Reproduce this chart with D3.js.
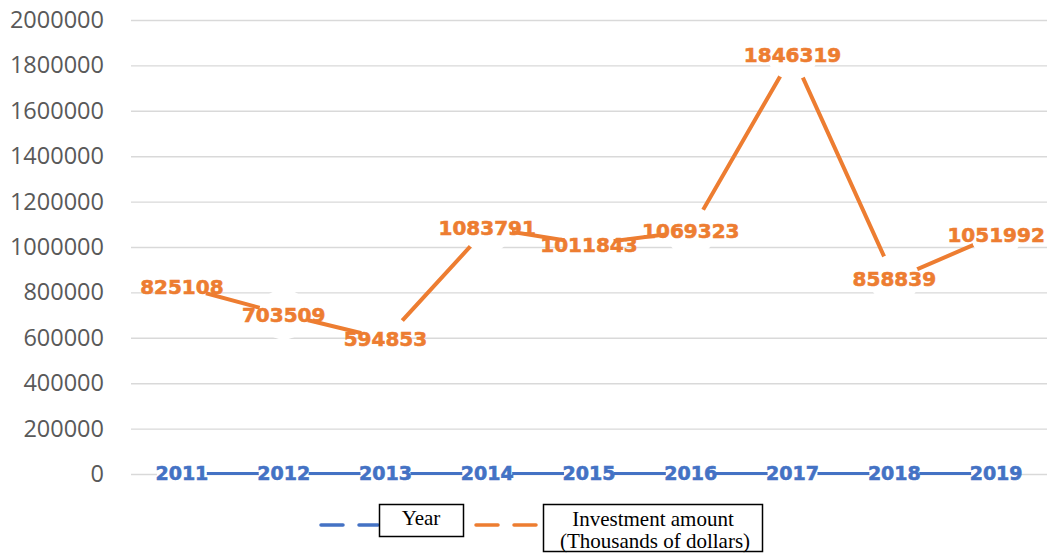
<!DOCTYPE html>
<html>
<head>
<meta charset="utf-8">
<script src="https://cdn.jsdelivr.net/npm/d3@7"></script>
<style>
  html, body { margin: 0; padding: 0; background: #fff; }
  svg { display: block; }
</style>
</head>
<body>
<svg id="chart" width="1051" height="554"></svg>
<script>
const categories = ["2011", "2012", "2013", "2014", "2015", "2016", "2017", "2018", "2019"];
const yearValues = [2011, 2012, 2013, 2014, 2015, 2016, 2017, 2018, 2019];
const investment = [825108, 703509, 594853, 1083791, 1011843, 1069323, 1846319, 858839, 1051992];
const yTicks = [0, 200000, 400000, 600000, 800000, 1000000, 1200000, 1400000, 1600000, 1800000, 2000000];
const seriesNames = ["Year", "Investment amount", "(Thousands of dollars)"];

(function () {
const BLUE = "#4472C4", ORANGE = "#ED7D31";
const svg = d3.select("#chart");
const pLeft = 131, pRight = 1047, pTop = 20, pBottom = 474;

const x = d3.scaleBand().domain(categories).range([pLeft, pRight]);
const cx = d => x(d) + x.bandwidth() / 2;
const y = d3.scaleLinear().domain([0, 2000000]).range([pBottom, pTop]);

// grid + y axis
const axis = svg.append("g").attr("transform", `translate(${pLeft},0)`)
  .call(d3.axisLeft(y).tickValues(yTicks).tickFormat(d3.format("d"))
    .tickSize(-(pRight - pLeft)).tickPadding(27));
axis.select(".domain").remove();
axis.selectAll(".tick line").attr("stroke", "#d9d9d9").attr("stroke-width", 1.4);
axis.selectAll(".tick text").attr("fill", "#595959")
  .style("font-family", "'Open Sans', sans-serif").style("font-size", "23.5px");

const series = [
  { name: "year", values: yearValues, color: BLUE, width: 3, fs: 19 },
  { name: "inv", values: investment, color: ORANGE, width: 4, fs: 20 }
];

const R = 25;
const defs = svg.append("defs");
const mask = defs.append("mask").attr("id", "lineMask").attr("maskUnits", "userSpaceOnUse")
  .attr("x", 0).attr("y", 0).attr("width", 1051).attr("height", 554);
mask.append("rect").attr("x", 0).attr("y", 0).attr("width", 1051).attr("height", 554).attr("fill", "#fff");

series.forEach(s => {
  mask.selectAll(null).data(categories).enter().append("circle")
    .attr("cx", d => cx(d)).attr("cy", (d, i) => y(s.values[i])).attr("r", R).attr("fill", "#000");
  svg.append("g").selectAll("circle").data(categories).enter().append("circle")
    .attr("cx", d => cx(d)).attr("cy", (d, i) => y(s.values[i])).attr("r", R).attr("fill", "#fff");
});

series.forEach(s => {
  svg.append("g").selectAll("text").data(categories).enter().append("text")
    .attr("x", d => cx(d)).attr("y", (d, i) => y(s.values[i]))
    .attr("dy", "0.36em").attr("text-anchor", "middle")
    .attr("fill", s.color).attr("stroke", s.color).attr("stroke-width", 0.6)
    .style("font-family", "'DejaVu Sans', sans-serif").style("font-weight", "bold")
    .style("font-size", s.fs + "px")
    .text((d, i) => String(s.values[i]));
});

series.forEach(s => {
  const line = d3.line().x((d, i) => cx(categories[i])).y(d => y(d));
  svg.append("path").datum(s.values).attr("d", line)
    .attr("fill", "none").attr("stroke", s.color).attr("stroke-width", s.width)
    .attr("mask", "url(#lineMask)");
});

// legend
const lg = svg.append("g");
const serif = "'Liberation Serif', 'Times New Roman', serif";
function dashed(x0, x1, color) {
  lg.append("line").attr("x1", x0).attr("x2", x1).attr("y1", 525).attr("y2", 525)
    .attr("stroke", color).attr("stroke-width", 3.5).attr("stroke-linecap", "round")
    .attr("stroke-dasharray", "22,16");
}
dashed(321, 378, BLUE);
lg.append("rect").attr("x", 379.5).attr("y", 504.5).attr("width", 84).attr("height", 32)
  .attr("fill", "#fff").attr("stroke", "#000").attr("stroke-width", 1.5);
lg.append("text").attr("x", 421).attr("y", 525).attr("text-anchor", "middle")
  .style("font-family", serif).style("font-size", "21px").text(seriesNames[0]);

dashed(476, 538, ORANGE);
lg.append("rect").attr("x", 543.5).attr("y", 504.5).attr("width", 219).attr("height", 47)
  .attr("fill", "#fff").attr("stroke", "#000").attr("stroke-width", 1.5);
lg.append("text").attr("x", 653).attr("y", 526).attr("text-anchor", "middle")
  .style("font-family", serif).style("font-size", "21px").text(seriesNames[1]);
lg.append("text").attr("x", 655).attr("y", 548).attr("text-anchor", "middle")
  .style("font-family", serif).style("font-size", "21px").text(seriesNames[2]);
})();
</script>
</body>
</html>
